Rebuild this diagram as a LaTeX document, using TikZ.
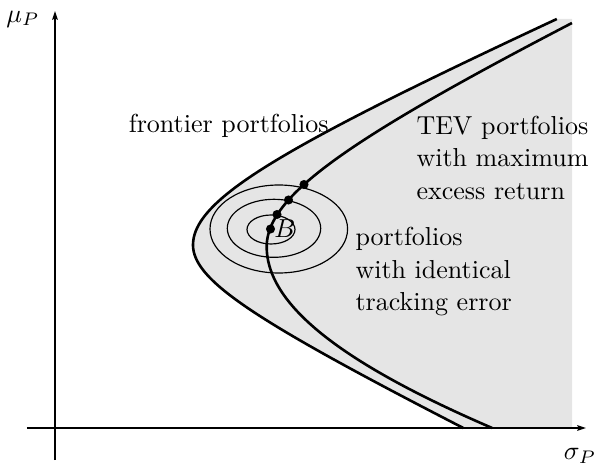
\documentclass[tikz,border=0pt]{standalone}
\usetikzlibrary{arrows.meta}
\begin{document}
\begin{tikzpicture}[x=0.3846pt,y=-0.3846pt,
  declare function={
    outerx(\t)=193+ifthenelse(\t<245,
        100*sqrt(1.817^2+5.18*((\t-245)/100)^2)-181.7,
        100*sqrt(1.25^2+4.2*((\t-245)/100)^2)-125);
    innerx(\t)=266.7+ifthenelse(\t<246.7,
        100*sqrt(2.117^2+4.445*((\t-246.7)/100)^2)-211.7,
        100*sqrt(14.91^2+22*((\t-246.7)/100)^2)-1491);
  },
  axis/.style={line width=0.5pt,-{Stealth[length=3.4pt,width=2.2pt,inset=0.6pt]}},
  curve/.style={line width=1pt},
  tecurve/.style={line width=0.45pt},
  dot/.style={circle,fill=black,inner sep=0pt,minimum size=3.5pt},
  lbl/.style={inner sep=0pt,align=left,font=\fontsize{10}{12.5}\selectfont}]
  \useasboundingbox (0,0) rectangle (597,465);

  % shaded feasible region right of the frontier
  \fill[black!10] plot[domain=19:428,samples=140,variable=\t]
      ({outerx(\t)},\t) -- (572,428) -- (572,19) -- cycle;

  % axes
  \coordinate (ytop) at (55,11);
  \coordinate (ybot) at (55,460);
  \coordinate (xleft) at (27,428);
  \coordinate (xright) at (586,428);
  \draw[axis] (ybot) -- (ytop);
  \draw[axis] (xleft) -- (xright);
  \node[inner sep=0pt] (mu) at (23,19) {$\mu_P$};
  \node[inner sep=0pt] (sigma) at (580,456) {$\sigma_P$};

  % mean-variance frontier
  \draw[curve] plot[domain=19:428,samples=140,variable=\t]
      ({outerx(\t)},\t);

  % TEV frontier through the benchmark
  \draw[curve] plot[domain=23:428,samples=160,variable=\t]
      ({innerx(\t)},\t);

  % curves of constant tracking error around B
  \draw[tecurve] (271,229.5) ellipse [x radius=24,y radius=14.5];
  \draw[tecurve] (274,228.3) ellipse [x radius=46.7,y radius=29];
  \draw[tecurve] (278.8,229) ellipse [x radius=68.8,y radius=44];

  % benchmark and maximum-return points
  \node[dot] (b) at (270.5,229) {};
  \node[dot] (p1) at (277,214.5) {};
  \node[dot] (p2) at (288.5,200) {};
  \node[dot] (p3) at (304,184.5) {};
  \node[inner sep=0pt] (blabel) at (285,229) {$B$};

  % labels
  \node[lbl,anchor=base west] (front) at (128.3,132.3) {frontier portfolios};
  \node[lbl,anchor=north west] (tev) at (416,115.3)
      {TEV portfolios\\with maximum\\excess return};
  \node[lbl,anchor=north west] (ident) at (355,227)
      {portfolios\\with identical\\tracking error};
\end{tikzpicture}
\end{document}
